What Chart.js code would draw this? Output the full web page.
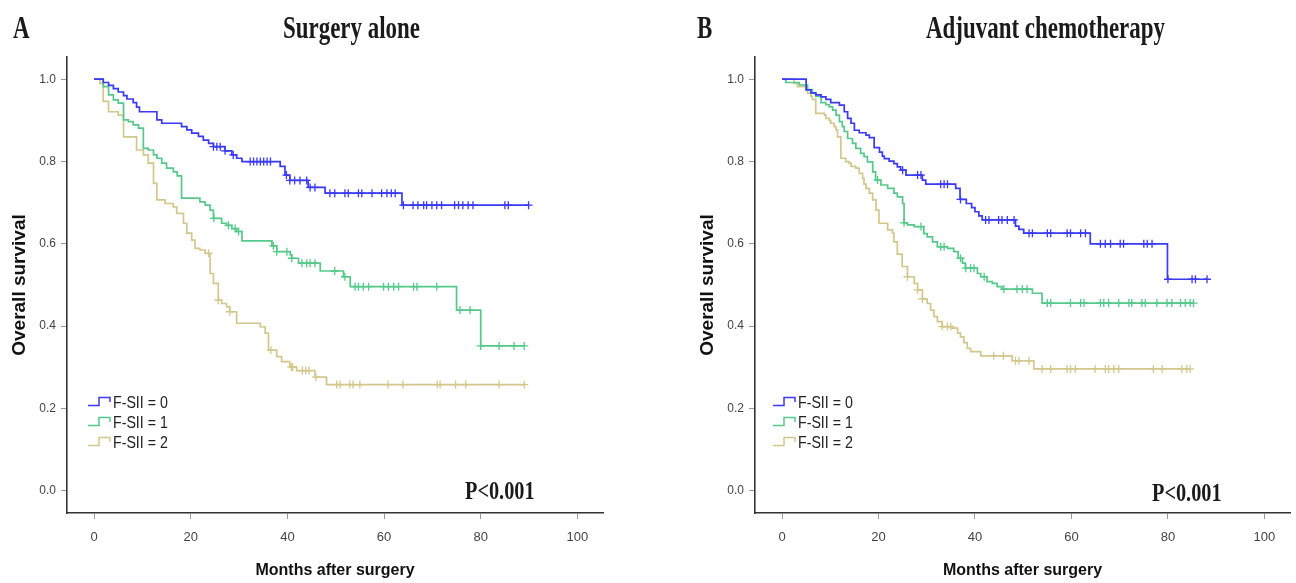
<!DOCTYPE html>
<html>
<head>
<meta charset="utf-8">
<title>Overall survival by F-SII</title>
<script src="https://cdn.jsdelivr.net/npm/chart.js@4.4.1/dist/chart.umd.min.js"></script>
<style>
    body { margin: 0; background: #fff; width: 1296px; height: 583px; overflow: hidden; position: relative; }
    .panel { position: absolute; top: 0; width: 648px; height: 583px; }
    .serif { position: absolute; font-family: 'Liberation Serif', 'Times New Roman', serif; font-weight: bold; color: #1a1a1a;
             line-height: 1; white-space: nowrap; transform-origin: 0 0; }
    .title, .letter { font-size: 31px; top: 12px; transform: scaleX(0.74); }
    .pval { font-size: 26px; transform: scaleX(0.78); }
    .legend { position: absolute; top: 394px; }
    .legend div { height: 20px; white-space: nowrap; }
    .legend svg { vertical-align: top; margin-top: 2px; }
    .legend span { display: inline-block; font-family: 'Liberation Sans', Arial, sans-serif; font-size: 16.5px; line-height: 1;
                   color: #222; transform: scaleX(0.86); transform-origin: 0 0; margin-left: 2px; }
</style>
</head>
<body>
<div class="panel" style="left:0"><canvas id="surgeryChart" width="648" height="583"></canvas></div>
<div class="panel" style="left:648px"><canvas id="chemoChart" width="648" height="583"></canvas></div>

<div class="serif letter" style="left:13px">A</div>
<div class="serif title" style="left:283px">Surgery alone</div>
<div class="serif letter" style="left:697px">B</div>
<div class="serif title" style="left:926px">Adjuvant chemotherapy</div>
<div class="serif pval" style="left:465px; top:478px">P&lt;0.001</div>
<div class="serif pval" style="left:1152px; top:480px">P&lt;0.001</div>

<div class="legend" id="surgeryLegend" style="left:88px"></div>
<div class="legend" id="chemoLegend" style="left:773px"></div>

<script>
const xTicks = [0, 20, 40, 60, 80, 100];
const yTicks = [0, 0.2, 0.4, 0.6, 0.8, 1.0];
const groupLabels = ['F-SII = 0', 'F-SII = 1', 'F-SII = 2'];
const groupColors = ['#3a3af2', '#55c98a', '#d3c88c'];

// Surgery alone: [month, survival after the event]
const surgeryF0 = [[0, 1], [1.9, 0.992], [3.0, 0.985], [4.0, 0.977], [5.0, 0.969], [6.1, 0.960], [6.8, 0.952],
    [8.1, 0.943], [8.8, 0.932], [9.4, 0.921], [13.0, 0.901], [14.0, 0.893], [18.1, 0.885], [19.2, 0.877],
    [20.2, 0.869], [21.6, 0.861], [22.6, 0.852], [23.7, 0.844], [24.7, 0.836], [27.1, 0.826], [28.5, 0.816],
    [29.5, 0.808], [30.6, 0.800], [38.5, 0.788], [39.5, 0.767], [40.5, 0.754], [44.3, 0.737], [47.8, 0.723],
    [63.7, 0.694]];
const surgeryF1 = [[0, 1], [1.9, 0.982], [3.0, 0.962], [4.0, 0.950], [5.0, 0.942], [6.1, 0.901], [7.1, 0.897],
    [8.1, 0.889], [9.2, 0.881], [10.2, 0.832], [11.2, 0.828], [12.3, 0.816], [13.0, 0.808], [14.0, 0.796],
    [15.0, 0.784], [16.4, 0.775], [17.2, 0.765], [18.1, 0.711], [21.9, 0.702], [23.0, 0.694], [24.0, 0.682],
    [24.7, 0.662], [26.4, 0.650], [27.4, 0.645], [28.5, 0.637], [29.5, 0.630], [30.6, 0.607], [36.8, 0.595],
    [37.8, 0.581], [40.6, 0.573], [40.9, 0.565], [42.3, 0.553], [46.8, 0.534], [51.6, 0.520], [53.0, 0.496],
    [75.0, 0.439], [80.0, 0.352]];
const surgeryF2 = [[0, 1], [1.2, 0.990], [1.9, 0.946], [3.0, 0.921], [5.0, 0.913], [6.1, 0.860], [8.8, 0.828],
    [10.2, 0.816], [11.2, 0.796], [12.3, 0.747], [13.0, 0.707], [14.7, 0.698], [16.4, 0.690], [17.1, 0.674],
    [18.5, 0.650], [19.2, 0.626], [20.2, 0.609], [20.9, 0.589], [21.9, 0.585], [23.0, 0.577], [24.0, 0.528],
    [24.7, 0.504], [25.7, 0.463], [26.4, 0.455], [27.4, 0.447], [28.1, 0.435], [29.5, 0.407], [34.4, 0.398],
    [35.4, 0.383], [36.1, 0.342], [37.8, 0.326], [38.8, 0.314], [40.5, 0.301], [41.9, 0.292], [45.7, 0.276],
    [48.1, 0.258]];

// censored months, surgery alone
const surgeryF0Censored = [24.7, 25.4, 26.1, 27.1, 28.8, 32.3, 33.0, 33.7, 34.4, 35.1, 35.8, 36.5, 39.8, 40.5,
    41.5, 42.6, 44.0, 44.7, 45.7, 48.8, 49.8, 51.9, 52.6, 54.7, 55.4, 57.5, 59.5, 60.6, 61.5, 62.3, 64.0, 66.0,
    67.0, 68.2, 68.8, 69.9, 70.9, 71.9, 74.6, 75.4, 76.3, 77.4, 78.4, 85.0, 85.7, 89.9];
const surgeryF1Censored = [24.8, 27.8, 29.2, 29.9, 37.1, 37.8, 39.9, 40.9, 43.0, 44.0, 44.7, 45.7, 49.8, 51.9,
    54.0, 54.7, 55.7, 56.8, 59.9, 60.9, 62.0, 63.0, 66.1, 66.8, 70.9, 75.7, 77.8, 80.0, 83.8, 86.9, 89.0];
const surgeryF2Censored = [23.7, 25.7, 28.1, 36.6, 40.8, 41.1, 43.1, 43.8, 44.5, 45.9, 50.2, 50.9, 52.9, 53.6,
    55.0, 60.8, 63.9, 71.0, 71.6, 74.8, 76.9, 83.8, 89.0];

// Adjuvant chemotherapy: [month, survival after the event]
const chemoF0 = [[0, 1], [5.0, 0.974], [6.0, 0.967], [7.0, 0.962], [8.1, 0.957], [9.1, 0.951], [10.1, 0.943],
    [11.9, 0.937], [12.9, 0.921], [13.6, 0.905], [14.3, 0.893], [15.0, 0.876], [16.0, 0.870], [17.4, 0.864],
    [18.1, 0.858], [19.1, 0.834], [20.2, 0.823], [20.8, 0.813], [21.2, 0.807], [22.2, 0.801], [23.2, 0.795],
    [23.9, 0.787], [24.6, 0.779], [25.7, 0.767], [29.1, 0.755], [29.8, 0.745], [36.0, 0.735], [36.9, 0.708],
    [38.2, 0.698], [39.3, 0.688], [40.0, 0.678], [40.8, 0.668], [41.5, 0.658], [48.4, 0.643], [49.1, 0.635],
    [50.1, 0.626], [63.9, 0.600], [79.9, 0.514]];
const chemoF1 = [[0, 1], [0.8, 0.992], [3.6, 0.986], [5.3, 0.975], [6.3, 0.966], [7.0, 0.958], [8.1, 0.943],
    [9.1, 0.938], [9.8, 0.933], [10.5, 0.925], [11.2, 0.913], [11.9, 0.897], [12.5, 0.885], [12.9, 0.873],
    [13.6, 0.856], [14.6, 0.844], [15.3, 0.832], [16.3, 0.820], [17.0, 0.812], [17.7, 0.799], [18.8, 0.775],
    [19.4, 0.755], [20.5, 0.743], [21.9, 0.735], [23.2, 0.723], [23.9, 0.714], [25.0, 0.698], [25.3, 0.651],
    [26.0, 0.646], [27.4, 0.642], [29.4, 0.625], [30.1, 0.617], [31.2, 0.605], [32.2, 0.593], [34.3, 0.589],
    [35.6, 0.581], [36.5, 0.565], [37.4, 0.553], [38.0, 0.541], [40.5, 0.528], [41.2, 0.520], [42.5, 0.508],
    [43.6, 0.504], [44.6, 0.496], [45.6, 0.490], [51.9, 0.480], [53.9, 0.456]];
const chemoF2 = [[0, 1], [2.5, 0.990], [3.2, 0.982], [5.0, 0.974], [5.3, 0.966], [6.0, 0.958], [6.3, 0.951],
    [7.0, 0.917], [8.8, 0.913], [9.1, 0.905], [9.8, 0.900], [10.1, 0.893], [10.8, 0.885], [11.2, 0.877],
    [11.5, 0.860], [12.2, 0.808], [13.2, 0.800], [13.9, 0.796], [14.3, 0.788], [15.3, 0.784], [16.0, 0.771],
    [16.7, 0.759], [17.0, 0.745], [17.4, 0.735], [18.1, 0.723], [18.8, 0.707], [19.5, 0.682], [20.1, 0.650],
    [21.9, 0.634], [22.9, 0.626], [23.2, 0.605], [23.9, 0.575], [24.9, 0.545], [26.0, 0.520], [27.4, 0.504],
    [28.1, 0.488], [29.1, 0.466], [30.1, 0.455], [30.8, 0.439], [31.5, 0.423], [32.2, 0.411], [33.2, 0.399],
    [35.3, 0.395], [36.4, 0.383], [37.0, 0.374], [37.7, 0.360], [38.4, 0.346], [39.1, 0.338], [41.2, 0.328],
    [47.7, 0.316], [52.2, 0.296]];

// censored months, adjuvant chemotherapy
const chemoF0Censored = [25.0, 28.1, 28.8, 32.9, 33.6, 34.3, 37.0, 42.2, 42.9, 44.9, 45.6, 46.7, 48.1, 51.2, 51.9,
    55.0, 55.7, 59.1, 59.8, 61.9, 62.9, 66.0, 67.0, 68.1, 70.1, 70.8, 75.0, 75.7, 76.7, 80.0, 85.0, 85.7, 88.1];
const chemoF1Censored = [19.8, 25.3, 28.8, 32.9, 33.6, 37.0, 38.1, 39.1, 39.8, 41.9, 46.0, 48.7, 49.8, 50.8, 55.0,
    55.7, 59.8, 61.9, 62.6, 66.0, 66.7, 67.7, 69.8, 71.9, 72.5, 74.6, 75.3, 77.7, 79.8, 80.8, 82.6, 83.6, 84.6, 85.3];
const chemoF2Censored = [26.0, 28.1, 29.1, 33.2, 34.3, 35.0, 43.9, 45.9, 48.4, 49.1, 51.2, 53.9, 55.7, 59.1, 59.8,
    60.8, 64.9, 67.0, 67.7, 68.8, 69.8, 77.0, 78.8, 82.9, 83.9, 84.6];

const sansFamily = "'Liberation Sans', Arial, sans-serif";

// survival level of a step curve at month t
function survivalAt(steps, t) {
    let s = steps[0][1];
    steps.forEach(([time, value]) => { if (time <= t) s = value; });
    return s;
}

function buildDatasets(curves, censored) {
    const sets = [];
    curves.forEach((steps, i) => {
        const cens = censored[i];
        const last = steps[steps.length - 1];
        const points = steps.map(([x, y]) => ({ x, y }));
        points.push({ x: Math.max(last[0], cens[cens.length - 1]), y: last[1] });
        sets.push({
            label: groupLabels[i],
            data: points,
            stepped: true,
            borderColor: groupColors[i],
            borderWidth: 1.7,
            pointRadius: 0,
            fill: false
        });
    });
    curves.forEach((steps, i) => {
        sets.push({
            label: groupLabels[i] + ' censored',
            data: censored[i].map(t => ({ x: t, y: survivalAt(steps, t) })),
            showLine: false,
            pointStyle: 'cross',
            pointRadius: 4,
            pointBorderWidth: 1.3,
            borderColor: groupColors[i]
        });
    });
    return sets;
}

function makeChart(canvasId, curves, censored, padLeft, padRight) {
    const ctx = document.getElementById(canvasId).getContext('2d');
    return new Chart(ctx, {
        type: 'line',
        data: { datasets: buildDatasets(curves, censored) },
        options: {
            responsive: false,
            animation: false,
            devicePixelRatio: 1,
            layout: { padding: { left: padLeft, top: 57, right: padRight, bottom: 0 } },
            plugins: { legend: { display: false }, tooltip: { enabled: false } },
            scales: {
                x: {
                    type: 'linear',
                    min: -5.6,
                    max: 105.3,
                    afterBuildTicks: s => { s.ticks = xTicks.map(v => ({ value: v })); },
                    afterFit: s => { s.height = 70; },
                    ticks: { color: '#444', font: { family: sansFamily, size: 13 }, padding: 11, maxRotation: 0,
                             callback: v => String(v) },
                    grid: { drawOnChartArea: false, drawTicks: true, tickLength: 6, color: '#999' },
                    border: { display: true, color: '#333', width: 1.6 },
                    title: { display: true, text: 'Months after surgery', color: '#111',
                             font: { family: sansFamily, size: 16, weight: 'bold' }, padding: { bottom: 3 } }
                },
                y: {
                    type: 'linear',
                    min: -0.054,
                    max: 1.054,
                    afterBuildTicks: s => { s.ticks = yTicks.map(v => ({ value: v })); },
                    afterFit: s => { s.width = 67; },
                    ticks: { color: '#444', font: { family: sansFamily, size: 12 }, padding: 5,
                             callback: v => v.toFixed(1) },
                    grid: { drawOnChartArea: false, drawTicks: true, tickLength: 6, color: '#999' },
                    border: { display: true, color: '#333', width: 1.6 },
                    title: { display: true, text: 'Overall survival', color: '#111',
                             font: { family: sansFamily, size: 19, weight: 'bold' }, padding: { top: 8 } }
                }
            }
        }
    });
}

function makeLegend(id) {
    const box = document.getElementById(id);
    groupLabels.forEach((label, i) => {
        const row = document.createElement('div');
        row.innerHTML = `<svg width="23" height="11"><polyline points="0,9.5 11,9.5 11,1.5 22,1.5 22,6"
            fill="none" stroke="${groupColors[i]}" stroke-width="1.5"/></svg><span>${label}</span>`;
        box.appendChild(row);
    });
}

makeChart('surgeryChart', [surgeryF0, surgeryF1, surgeryF2],
    [surgeryF0Censored, surgeryF1Censored, surgeryF2Censored], 0, 45);
makeChart('chemoChart', [chemoF0, chemoF1, chemoF2],
    [chemoF0Censored, chemoF1Censored, chemoF2Censored], 40, 6);
makeLegend('surgeryLegend');
makeLegend('chemoLegend');
</script>
</body>
</html>
